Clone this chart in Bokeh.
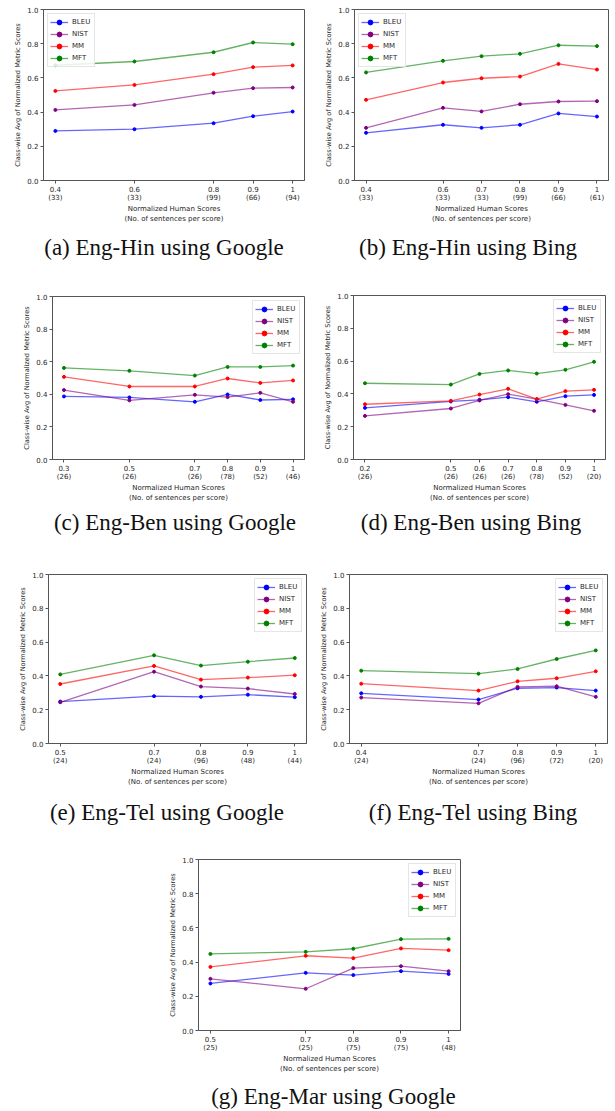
from bokeh.plotting import figure
from bokeh.models import Range1d, FixedTicker, Legend, LegendItem, Div, Spacer
from bokeh.layouts import row, column
from bokeh.embed import file_html
from bokeh.resources import INLINE

series_names = ["BLEU", "NIST", "MM", "MFT"]
series_colors = ["#0000ff", "#800080", "#ff0000", "#008000"]
y_ticks = [0.0, 0.2, 0.4, 0.6, 0.8, 1.0]
y_tick_labels = ["0.0", "0.2", "0.4", "0.6", "0.8", "1.0"]
y_title = "Class-wise Avg of Normalized Metric Scores"
x_title = "Normalized Human Scores\n(No. of sentences per score)"

# (a) Eng-Hin using Google
a_x = [0.4, 0.6, 0.8, 0.9, 1]
a_xlab = ["0.4", "0.6", "0.8", "0.9", "1"]
a_n = [33, 33, 99, 66, 94]
a_bleu = [0.290, 0.300, 0.335, 0.376, 0.403]
a_nist = [0.413, 0.442, 0.513, 0.540, 0.544]
a_mm = [0.524, 0.559, 0.622, 0.663, 0.673]
a_mft = [0.674, 0.696, 0.750, 0.807, 0.797]

# (b) Eng-Hin using Bing
b_x = [0.4, 0.6, 0.7, 0.8, 0.9, 1]
b_xlab = ["0.4", "0.6", "0.7", "0.8", "0.9", "1"]
b_n = [33, 33, 33, 99, 66, 61]
b_bleu = [0.279, 0.326, 0.308, 0.326, 0.392, 0.374]
b_nist = [0.308, 0.425, 0.404, 0.446, 0.462, 0.464]
b_mm = [0.472, 0.573, 0.598, 0.608, 0.682, 0.649]
b_mft = [0.632, 0.700, 0.727, 0.741, 0.791, 0.786]

# (c) Eng-Ben using Google
c_x = [0.3, 0.5, 0.7, 0.8, 0.9, 1]
c_xlab = ["0.3", "0.5", "0.7", "0.8", "0.9", "1"]
c_n = [26, 26, 26, 78, 52, 46]
c_bleu = [0.387, 0.381, 0.354, 0.399, 0.365, 0.369]
c_nist = [0.426, 0.363, 0.397, 0.383, 0.409, 0.354]
c_mm = [0.507, 0.448, 0.448, 0.497, 0.470, 0.485]
c_mft = [0.562, 0.544, 0.515, 0.568, 0.568, 0.576]

# (d) Eng-Ben using Bing
d_x = [0.2, 0.5, 0.6, 0.7, 0.8, 0.9, 1]
d_xlab = ["0.2", "0.5", "0.6", "0.7", "0.8", "0.9", "1"]
d_n = [26, 26, 26, 26, 78, 52, 20]
d_bleu = [0.315, 0.354, 0.364, 0.380, 0.352, 0.386, 0.394]
d_nist = [0.266, 0.311, 0.360, 0.398, 0.368, 0.333, 0.297]
d_mm = [0.337, 0.358, 0.396, 0.431, 0.368, 0.417, 0.425]
d_mft = [0.465, 0.457, 0.522, 0.543, 0.524, 0.547, 0.596]

# (e) Eng-Tel using Google
e_x = [0.5, 0.7, 0.8, 0.9, 1]
e_xlab = ["0.5", "0.7", "0.8", "0.9", "1"]
e_n = [24, 24, 96, 48, 44]
e_bleu = [0.248, 0.280, 0.276, 0.289, 0.274]
e_nist = [0.244, 0.425, 0.337, 0.325, 0.293]
e_mm = [0.352, 0.459, 0.378, 0.390, 0.404]
e_mft = [0.409, 0.522, 0.461, 0.484, 0.506]

# (f) Eng-Tel using Bing
f_x = [0.4, 0.7, 0.8, 0.9, 1]
f_xlab = ["0.4", "0.7", "0.8", "0.9", "1"]
f_n = [24, 24, 96, 72, 20]
f_bleu = [0.297, 0.260, 0.327, 0.331, 0.313]
f_nist = [0.272, 0.238, 0.335, 0.339, 0.276]
f_mm = [0.354, 0.313, 0.368, 0.386, 0.427]
f_mft = [0.431, 0.413, 0.441, 0.500, 0.551]

# (g) Eng-Mar using Google
g_x = [0.5, 0.7, 0.8, 0.9, 1]
g_xlab = ["0.5", "0.7", "0.8", "0.9", "1"]
g_n = [25, 25, 75, 75, 48]
g_bleu = [0.275, 0.337, 0.324, 0.347, 0.331]
g_nist = [0.302, 0.244, 0.365, 0.376, 0.347]
g_mm = [0.372, 0.437, 0.423, 0.480, 0.470]
g_mft = [0.448, 0.460, 0.478, 0.534, 0.536]

captions = ["(a) Eng-Hin using Google", "(b) Eng-Hin using Bing",
            "(c) Eng-Ben using Google", "(d) Eng-Ben using Bing",
            "(e) Eng-Tel using Google", "(f) Eng-Tel using Bing",
            "(g) Eng-Mar using Google"]

AX = "#555555"
TXT = "#262626"
BB = 48


def panel(x, xlab, n, ys, fw, fh, bl, br, bt, loc):
    lo, hi = min(x), max(x)
    pad = 0.05 * (hi - lo)
    p = figure(frame_width=fw, frame_height=fh,
               x_range=Range1d(lo - pad, hi + pad), y_range=Range1d(0, 1),
               min_border_left=bl, min_border_right=br, min_border_top=bt,
               min_border_bottom=BB, output_backend="svg", toolbar_location=None)
    p.grid.visible = False
    p.outline_line_color = AX
    p.outline_line_width = 1
    p.background_fill_color = "white"
    p.border_fill_color = "white"
    items = []
    for name, color, y in zip(series_names, series_colors, ys):
        l = p.line(x, y, line_color=color, line_width=1.3, line_alpha=0.6)
        s = p.scatter(x, y, size=3, fill_color=color, line_color=color)
        items.append(LegendItem(label=name, renderers=[l, s]))
    leg = Legend(items=items, location=loc, margin=4, padding=2, spacing=0,
                 glyph_width=18, glyph_height=12, label_height=12,
                 label_standoff=4, label_text_font="DejaVu Sans",
                 label_text_font_size="7px", label_text_color=TXT,
                 border_line_color="#cccccc", border_line_width=1,
                 background_fill_alpha=0.85)
    p.add_layout(leg)
    xa = p.xaxis[0]
    ya = p.yaxis[0]
    xa.ticker = FixedTicker(ticks=x, minor_ticks=[])
    xa.major_label_overrides = {xv: f"{lab}\n({c})" for xv, lab, c in zip(x, xlab, n)}
    ya.ticker = FixedTicker(ticks=y_ticks, minor_ticks=[])
    ya.major_label_overrides = {t: s for t, s in zip(y_ticks, y_tick_labels)}
    xa.axis_label = x_title
    ya.axis_label = y_title
    for ax in (xa, ya):
        ax.major_label_text_font = "DejaVu Sans"
        ax.major_label_text_font_size = "7px"
        ax.major_label_text_color = TXT
        ax.axis_label_text_font = "DejaVu Sans"
        ax.axis_label_text_font_size = "7px"
        ax.axis_label_text_font_style = "normal"
        ax.axis_label_text_color = TXT
        ax.major_tick_out = 3
        ax.major_tick_in = 0
        ax.minor_tick_out = 0
        ax.minor_tick_in = 0
        ax.axis_line_color = AX
        ax.major_tick_line_color = AX
        ax.major_label_standoff = 2
        ax.axis_label_standoff = 2
    ya.axis_label_text_font_size = "6.6px"
    xa.axis_label_standoff = 0
    xa.major_label_text_line_height = 1.1
    xa.axis_label_text_line_height = 1.15
    return p


def cap(text, w, h, pad_top, pad_left):
    html = (f'<div style="box-sizing:border-box;width:{w}px;height:{h}px;'
            f'padding-top:{pad_top}px;padding-left:{pad_left}px;text-align:center;'
            f"font-family:'Liberation Serif';font-size:23px;line-height:20px;"
            f'color:#111;white-space:nowrap;overflow:visible">{text}</div>')
    return Div(text=html, width=w, height=h, margin=(0, 0, 0, 0))


pa = panel(a_x, a_xlab, a_n, [a_bleu, a_nist, a_mm, a_mft], 261, 171, 35, 9, 8, "top_left")
pb = panel(b_x, b_xlab, b_n, [b_bleu, b_nist, b_mm, b_mft], 254, 171, 41, 5, 8, "top_left")
pc = panel(c_x, c_xlab, c_n, [c_bleu, c_nist, c_mm, c_mft], 252, 163, 44, 9, 25, "top_right")
pd = panel(d_x, d_xlab, d_n, [d_bleu, d_nist, d_mm, d_mft], 252, 164, 40, 8, 24, "top_right")
pe = panel(e_x, e_xlab, e_n, [e_bleu, e_nist, e_mm, e_mft], 258, 169, 40, 7, 32, "top_right")
pf = panel(f_x, f_xlab, f_n, [f_bleu, f_nist, f_mm, f_mft], 258, 169, 36, 6, 32, "top_right")
pg = panel(g_x, g_xlab, g_n, [g_bleu, g_nist, g_mm, g_mft], 262, 171, 40, 10, 21, "top_right")

r1 = row(column(pa, cap(captions[0], 305, 43, 10, 7)),
         column(pb, cap(captions[1], 300, 43, 10, 10)))
r2 = row(column(pc, cap(captions[2], 305, 35, 6, 29)),
         column(pd, cap(captions[3], 300, 35, 6, 16)))
r3 = row(column(pe, cap(captions[4], 305, 47, 12, 13)),
         column(pf, cap(captions[5], 300, 47, 12, 20)))
r4 = row(Spacer(width=150, height=10),
         column(pg, cap(captions[6], 312, 33, 9, 39)))

layout = column(r1, r2, r3, r4, margin=(1, 0, 0, 8))

with open("out.html", "w") as fh:
    fh.write(file_html(layout, INLINE))
